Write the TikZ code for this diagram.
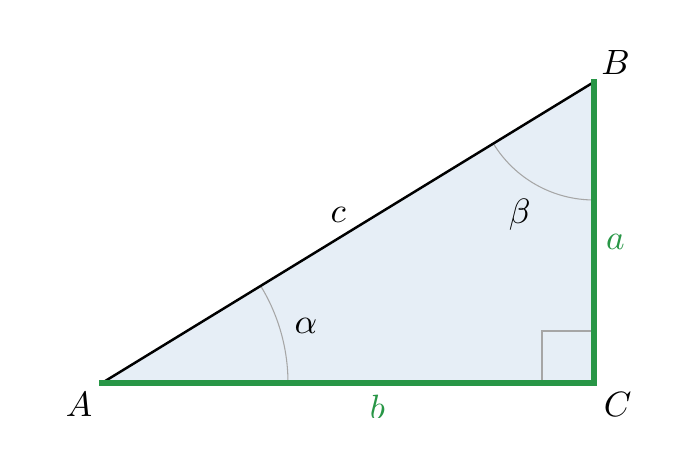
\documentclass[tikz,border=0pt]{standalone}
\usepackage{amsmath, tikz, tkz-euclide, xcolor}
\definecolor{legGreen}{RGB}{40,150,70}
\definecolor{triFill}{RGB}{230,238,246}

\begin{document}
\begin{tikzpicture}[font=\fontsize{14}{16}\selectfont]
    \useasboundingbox (0,0) rectangle (7,4.66);
    \clip (0,0.48) rectangle (7,4.66);
    \tkzDefPoints{1.02/0.83/A, 5.94/0.83/C, 5.94/3.84/B}
    \tkzFillPolygon[fill=triFill](A,B,C)
    \tkzMarkAngle[size=1.86, gray!70, line width=0.3pt](C,A,B)
    \tkzMarkAngle[size=1.18, gray!70, line width=0.3pt](A,B,C)
    \tkzMarkRightAngle[size=0.52, gray!70, line width=0.3pt](A,C,B)
    \tkzDrawSegment[black, line width=0.7pt](A,B)
    \tkzDrawSegments[legGreen, line width=1.6pt, line cap=rect](A,C C,B)
    \tkzLabelAngle[pos=2.12](C,A,B){$\alpha$}
    \tkzLabelAngle[pos=1.52](A,B,C){$\beta$}
    \tkzLabelPoint[below left=-1pt](A){$A$}
    \tkzLabelPoint[above right=-2pt](B){$B$}
    \tkzLabelPoint[below right=-1pt](C){$C$}
    \tkzLabelSegment[pos=0.53, right, legGreen](B,C){$a$}
    \tkzLabelSegment[pos=0.56, below, legGreen](A,C){$b$}
    \tkzLabelSegment[pos=0.48, above=1pt](A,B){$c$}
    \end{tikzpicture}
\end{document}
